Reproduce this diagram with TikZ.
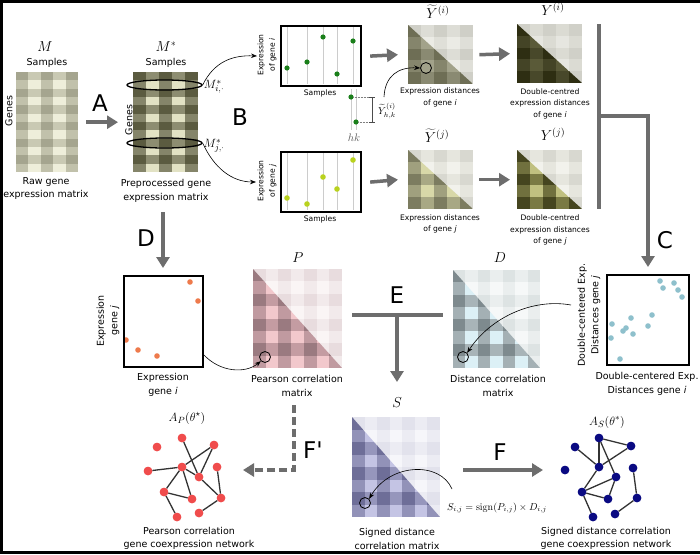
\documentclass[tikz,border=0pt]{standalone}
\usepackage[no-math]{fontspec}
\setmainfont{DejaVu Sans}
\newfontfamily\plainsans{DejaVu Sans}
\usetikzlibrary{arrows.meta,shapes.geometric}
\definecolor{arrgray}{HTML}{6D6D6D}
\definecolor{dotgreen}{HTML}{1A7F1A}
\definecolor{dotyel}{HTML}{B9D21E}
\definecolor{dotorange}{HTML}{EE7A4C}
\definecolor{dotblue}{HTML}{8EC0CC}
\definecolor{netred}{HTML}{F04C4C}
\definecolor{netblue}{HTML}{0A0A82}
\definecolor{edgegray}{HTML}{333333}
% raw matrix
\definecolor{Ma0}{HTML}{A5A58F}\definecolor{Ma1}{HTML}{C9C9B3}\definecolor{Ma2}{HTML}{C1C1AB}\definecolor{Ma3}{HTML}{EEEEDA}
% preprocessed
\definecolor{Mb0}{HTML}{5B5B40}\definecolor{Mb1}{HTML}{8D8D71}\definecolor{Mb2}{HTML}{85856A}\definecolor{Mb3}{HTML}{E2E2C4}
% Y tilde i
\definecolor{Ta0}{HTML}{CFCFC7}\definecolor{Ta1}{HTML}{DDDDD6}\definecolor{Ta2}{HTML}{DFDFD8}\definecolor{Ta3}{HTML}{EBEBE5}
\definecolor{Tb0}{HTML}{6E6E55}\definecolor{Tb1}{HTML}{8A8A72}\definecolor{Tb2}{HTML}{85856C}\definecolor{Tb3}{HTML}{A2A28A}
% Y i
\definecolor{Ua0}{HTML}{D0D0C8}\definecolor{Ua1}{HTML}{DBDBD3}\definecolor{Ua2}{HTML}{DBDBD3}\definecolor{Ua3}{HTML}{E6E6E0}
\definecolor{Ub0}{HTML}{2E2E12}\definecolor{Ub1}{HTML}{48482A}\definecolor{Ub2}{HTML}{444426}\definecolor{Ub3}{HTML}{5A5A38}
% Y tilde j / Y j
\definecolor{Va0}{HTML}{D8D8D0}\definecolor{Va1}{HTML}{E6E6DE}\definecolor{Va2}{HTML}{E6E6DE}\definecolor{Va3}{HTML}{F2F2EC}
\definecolor{Vb0}{HTML}{7C7C60}\definecolor{Vb1}{HTML}{A8A884}\definecolor{Vb2}{HTML}{A0A07E}\definecolor{Vb3}{HTML}{D8D8A8}
\definecolor{Wb0}{HTML}{45451F}\definecolor{Wb1}{HTML}{7A7A44}\definecolor{Wb2}{HTML}{70703E}\definecolor{Wb3}{HTML}{C0C080}
% P
\definecolor{Pa0}{HTML}{E8DCDE}\definecolor{Pa1}{HTML}{F2EAEB}\definecolor{Pa2}{HTML}{F2EAEB}\definecolor{Pa3}{HTML}{FAF5F5}
\definecolor{Pb0}{HTML}{9A7A80}\definecolor{Pb1}{HTML}{C49CA2}\definecolor{Pb2}{HTML}{C09AA0}\definecolor{Pb3}{HTML}{F2C8CC}
% D
\definecolor{Da0}{HTML}{DDE3E3}\definecolor{Da1}{HTML}{EAEEEE}\definecolor{Da2}{HTML}{EAEEEE}\definecolor{Da3}{HTML}{F6F8F8}
\definecolor{Db0}{HTML}{7E8A8E}\definecolor{Db1}{HTML}{A8B4B8}\definecolor{Db2}{HTML}{A4B0B4}\definecolor{Db3}{HTML}{DCF0F6}
% S
\definecolor{Sa0}{HTML}{E2E2EC}\definecolor{Sa1}{HTML}{ECECF3}\definecolor{Sa2}{HTML}{ECECF3}\definecolor{Sa3}{HTML}{F6F6FA}
\definecolor{Sb0}{HTML}{6E6E98}\definecolor{Sb1}{HTML}{9696BC}\definecolor{Sb2}{HTML}{9292B8}\definecolor{Sb3}{HTML}{C4C4E4}

\newcommand{\plaidcells}[7]{%
  \pgfmathsetmacro\pmCW{#3}\pgfmathsetmacro\pmCH{#4}%
  \foreach \cc in {0,...,#5}{\foreach \rr in {0,...,#6}{%
    \pgfmathtruncatemacro\kk{mod(\cc,2)+2*mod(\rr,2)}%
    \fill[fill=#7\kk] ({#1+\cc*\pmCW},{#2+\rr*\pmCH}) rectangle ({#1+(\cc+1)*\pmCW+0.4},{#2+(\rr+1)*\pmCH+0.4});
  }}}
\newcommand{\fullmat}[7]{%
  \begin{scope}
  \clip (#1,#2) rectangle ++(#3,#4);
  \pgfmathtruncatemacro\pmLC{#5-1}\pgfmathtruncatemacro\pmLR{#6-1}%
  \plaidcells{#1}{#2}{#3/#5}{#4/#6}{\pmLC}{\pmLR}{#7}
  \end{scope}}
\newcommand{\trimat}[8]{%
  \begin{scope}
  \clip (#1,#2) rectangle ++(#3,#4);
  \pgfmathtruncatemacro\pmLC{#5-1}\pgfmathtruncatemacro\pmLR{#6-1}%
  \plaidcells{#1}{#2}{#3/#5}{#4/#6}{\pmLC}{\pmLR}{#7}
  \clip (#1,#2) -- (#1,{#2+#4}) -- ({#1+#3},{#2+#4}) -- cycle;
  \plaidcells{#1}{#2}{#3/#5}{#4/#6}{\pmLC}{\pmLR}{#8}
  \end{scope}}

\begin{document}
\begin{tikzpicture}[x=1pt,y=-1pt,
  lbl/.style={font=\fontsize{9.5}{13.5}\selectfont, align=center, inner sep=0pt},
  sml/.style={font=\fontsize{7.6}{11.5}\selectfont, align=center, inner sep=0pt},
  big/.style={font=\fontsize{23}{23}\selectfont, inner sep=0pt},
  mth/.style={font=\fontsize{14}{14}\selectfont, inner sep=0pt},
  garrow/.style={draw=arrgray, line width=3.5pt, -{Triangle[length=11pt,width=13pt]}},
  gline/.style={draw=arrgray, line width=3.5pt},
  tarrow/.style={draw=black, line width=0.6pt, -{Stealth[length=6pt,width=4.5pt]}},
  sbox/.style={draw=black, line width=2.2pt, inner sep=0pt, anchor=north west},
  area/.style={inner sep=0pt, anchor=north west},
  vgrid/.style={draw=gray!40, line width=0.6pt},
  rnode/.style={circle, fill=netred, inner sep=0pt, minimum size=8.5pt},
  bnode/.style={circle, fill=netblue, inner sep=0pt, minimum size=8.5pt},
  nedge/.style={draw=edgegray, line width=1.3pt},
  ring/.style={circle, draw=black, line width=0.8pt, inner sep=0pt, minimum size=11pt},
  oval/.style={ellipse, draw=black, line width=1.3pt, inner sep=0pt, minimum width=75pt, minimum height=10pt},
]
\useasboundingbox (0,0) rectangle (700,554);
\fill[white] (0,0) rectangle (700,554);

% ---------- matrices ----------
\fullmat{16}{72}{62}{100}{5}{12}{Ma}
\fullmat{133}{72}{65}{100}{5}{12}{Mb}
\trimat{408}{25}{65}{59}{5}{5}{Ta}{Tb}
\trimat{517}{24}{65}{59}{5}{5}{Ua}{Ub}
\trimat{408}{150}{65}{59}{5}{5}{Va}{Vb}
\trimat{517}{150}{65}{59}{5}{5}{Va}{Wb}
\trimat{253}{269}{89}{99}{7}{8}{Pa}{Pb}
\trimat{453}{270}{87}{98}{7}{8}{Da}{Db}
\trimat{352}{417}{88}{100}{7}{8}{Sa}{Sb}

\node[area, minimum width=62pt, minimum height=100pt] (M) at (16,72) {};
\node[area, minimum width=65pt, minimum height=100pt] (Ms) at (133,72) {};
\node[area, minimum width=65pt, minimum height=59pt] (Yti) at (408,25) {};
\node[area, minimum width=65pt, minimum height=59pt] (Yi) at (517,24) {};
\node[area, minimum width=65pt, minimum height=59pt] (Ytj) at (408,150) {};
\node[area, minimum width=65pt, minimum height=59pt] (Yj) at (517,150) {};
\node[area, minimum width=89pt, minimum height=99pt] (Pm) at (253,269) {};
\node[area, minimum width=87pt, minimum height=98pt] (Dm) at (453,270) {};
\node[area, minimum width=88pt, minimum height=100pt] (Sm) at (352,417) {};

% ---------- M and M* ----------
\node[mth] (Mlab) at (45,47) {$M$};
\node[lbl] (Msam) at (47,63) {Samples};
\node[lbl, rotate=90] (Mgen) at (9,111) {Genes};
\node[lbl] (Mcap) at (46,188.5) {Raw gene\\expression matrix};

\node[mth] (Mslab) at (166,47) {$M^{*}$};
\node[lbl] (Mssam) at (166,63) {Samples};
\node[lbl, rotate=90] (Msgen) at (129,120) {Genes};
\node[lbl] (Mscap) at (166,191) {Preprocessed gene\\expression matrix};
\node[oval] (ei) at (164.5,85) {};
\node[oval] (ej) at (164.5,143) {};
\node[font=\fontsize{13}{13}\selectfont, inner sep=0pt] (Mi) at (214,87) {$M^{*}_{i,\cdot}$};
\node[font=\fontsize{13}{13}\selectfont, inner sep=0pt] (Mj) at (214,146) {$M^{*}_{j,\cdot}$};

\draw[garrow] ([xshift=8pt]M.east) -- ([xshift=-15pt]Ms.west);
\node[big] (lA) at (100,103) {A};
\node[big] (lB) at (240,117) {B};

% ---------- scatter i ----------
\foreach \xx in {287,307,323,337,353} \draw[vgrid] (\xx,26) -- (\xx,84);
\foreach \xx/\yy in {287/68,307/62,323/37,337/74,353/41} \fill[dotgreen] (\xx,\yy) circle (2.6pt);
\node[sbox, minimum width=80pt, minimum height=60pt] (sci) at (280,25) {};
\node[sml, rotate=90] (sciy) at (267,55) {Expression\\of gene \textit{i}};
\node[sml] (scix) at (320,93) {Samples};
\coordinate (tipi) at (257,56);
\draw[tarrow] (ei.east) .. controls (214,62) and (232,55) .. (tipi);

% inset
\draw[vgrid] (351,89) -- (351,130);
\draw[vgrid] (356,89) -- (356,130);
\fill[dotgreen] (351,97) circle (2.6pt);
\fill[dotgreen] (356,122) circle (2.6pt);
\draw[densely dotted, gray, line width=0.5pt] (353,97) -- (372,97);
\draw[densely dotted, gray, line width=0.5pt] (358,122) -- (372,122);
\draw[gray!60!black, line width=0.8pt] (372,97) -- (372,122) (369,97) -- (375,97) (369,122) -- (375,122);
\node[font=\fontsize{10}{10}\selectfont, inner sep=0pt] (ylab) at (387,111) {$\widetilde{Y}^{(i)}_{h,k}$};
\node[font=\fontsize{11}{11}\selectfont, inner sep=0pt, text=gray!70!black] (hk) at (354,138) {$hk$};
\node[ring] (ci) at (426,68) {};
\coordinate (ystart) at (384,97);
\draw[tarrow] (ystart) .. controls (385,76) and (398,67) .. (ci.west);

% Y tilde i and Y i
\node[mth] (Ytil) at (438,12) {$\widetilde{Y}^{(i)}$};
\node[sml] (Ytic) at (440,97.5) {Expression distances\\of gene \textit{i}};
\node[mth] (Yil) at (553,9) {$Y^{(i)}$};
\node[sml] (Yic) at (550,103.5) {Double-centred\\expression distances\\of gene \textit{i}};
\draw[garrow] ([xshift=8pt]sci.east) -- ([xshift=-10pt]Yti.west);
\draw[garrow] ([xshift=6pt]Yti.east) -- ([xshift=-7pt]Yi.west);

% ---------- scatter j ----------
\foreach \xx in {287,307,323,337,353} \draw[vgrid] (\xx,152) -- (\xx,210);
\foreach \xx/\yy in {287/198,307/204,323/177,337/189,353/160} \fill[dotyel] (\xx,\yy) circle (2.8pt);
\node[sbox, minimum width=80pt, minimum height=60pt] (scj) at (280,151) {};
\node[sml, rotate=90] (scjy) at (267,181) {Expression\\of gene \textit{j}};
\node[sml] (scjx) at (320,219) {Samples};
\coordinate (tipj) at (256,182);
\draw[tarrow] (ej.east) .. controls (214,168) and (232,182) .. (tipj);

\node[mth] (Ytjl) at (437,136) {$\widetilde{Y}^{(j)}$};
\node[sml] (Ytjc) at (440,224) {Expression distances\\of gene \textit{j}};
\node[mth] (Yjl) at (553,134) {$Y^{(j)}$};
\node[sml] (Yjc) at (550,230) {Double-centred\\expression distances\\of gene \textit{j}};
\draw[garrow] ([xshift=8pt]scj.east) -- ([xshift=-10pt]Ytj.west);
\draw[garrow] ([xshift=6pt]Ytj.east) -- ([xshift=-7pt]Yj.west);

% ---------- bracket and C ----------
\coordinate (bt) at (599,24);
\coordinate (bb) at (599,209);
\coordinate (bm) at (599,116);
\coordinate (bc) at (648,116);
\coordinate (btip) at (648,267);
\draw[gline] (bt) -- (bb);
\draw[garrow] (bm) -- (bc) -- (btip);
\node[big] (lC) at (665,240) {C};

\foreach \xx/\yy in {660/281,663/288,674/283,678/290,682/297,652/315,631/318,626/328,623/331,633/334,612/324,611/338,648/326,620/359}
  \fill[dotblue] (\xx,\yy) circle (2.8pt);
\node[sbox, minimum width=82pt, minimum height=90pt] (scc) at (606,274) {};
\node[lbl, rotate=90] (sccy) at (589,315) {Double-centered Exp.\\Distances gene \textit{j}};
\node[lbl] (sccx) at (647,384) {Double-centered Exp.\\Distances gene \textit{i}};

% ---------- D: orange scatter ----------
\draw[garrow] (163,212) -- (163,268);
\node[big] (lD) at (146,238) {D};
\foreach \xx/\yy in {190/282,198/301,126/340,138/350,157/356} \fill[dotorange] (\xx,\yy) circle (2.8pt);
\node[sbox, minimum width=79pt, minimum height=91pt] (sco) at (123,275) {};
\node[lbl, rotate=90] (scoy) at (108,321) {Expression\\gene \textit{j}};
\node[lbl] (scox) at (163,385) {Expression\\gene \textit{i}};

% ---------- P, D ----------
\node[mth] (Pl) at (298,258) {$P$};
\node[lbl] (Pc) at (297,386) {Pearson correlation\\matrix};
\node[ring] (pc) at (265,357) {};
\coordinate (pstart) at (204,355);
\draw[tarrow] (pstart) .. controls (220,372) and (245,374) .. (pc.south west);

\node[mth] (Dl) at (500,258) {$D$};
\node[lbl] (Dc) at (498,386) {Distance correlation\\matrix};
\node[ring] (dc) at (463,357) {};
\coordinate (dstart) at (571,305);
\draw[tarrow] (dstart) .. controls (532,298) and (490,318) .. (dc.north east);

% ---------- E ----------
\node[big] (lE) at (397,295) {E};
\coordinate (el) at (352,315);
\coordinate (er) at (443,315);
\coordinate (em) at (397,315);
\coordinate (etip) at (397,382);
\draw[gline] (el) -- (er);
\draw[garrow] (em) -- (etip);

% ---------- S ----------
\node[mth] (Sl) at (397,403) {$S$};
\node[lbl] (Sc) at (397,539) {Signed distance\\correlation matrix};
\node[ring] (sc) at (365,503) {};
\node[font=\fontsize{10}{10}\selectfont, inner sep=0pt] (form) at (497,508) {$S_{i,j} = \mathrm{sign}(P_{i,j}) \times D_{i,j}$};
\coordinate (sstart) at (452,489);
\draw[tarrow] (sstart) .. controls (440,461) and (390,463) .. (sc.north east);

% ---------- F and F' ----------
\coordinate (fs) at (463,470);
\coordinate (fe) at (543,470);
\draw[garrow] (fs) -- (fe);
\node[big] (lF) at (500,452) {F};
\coordinate (fps) at (294,405);
\coordinate (fpc) at (294,470);
\coordinate (fpe) at (243,470);
\draw[garrow, dash pattern=on 8pt off 4pt] (fps) -- (fpc) -- (fpe);
\node[big] (lFp) at (313,450) {\plainsans F'};

% ---------- Pearson network ----------
\node[font=\fontsize{13}{13}\selectfont, inner sep=0pt] (APl) at (187,418) {$A_P(\theta^{\star})$};
\foreach \n/\xx/\yy in {r1/157/447, r2/182/438, r3/214/445, r4/148/471, r5/182/467, r6/217/467, r7/199/477, r8/164/492, r9/192/499, r10/221/498, r11/177/517, r12/199/513}
  \node[rnode] (\n) at (\xx,\yy) {};
\foreach \a/\b in {r4/r5, r5/r3, r5/r7, r5/r8, r5/r9, r3/r7, r2/r7, r8/r9, r8/r11, r6/r10, r7/r10, r12/r10}
  \draw[nedge] (\a) -- (\b);
\foreach \n/\xx/\yy in {r1/157/447, r2/182/438, r3/214/445, r4/148/471, r5/182/467, r6/217/467, r7/199/477, r8/164/492, r9/192/499, r10/221/498, r11/177/517, r12/199/513}
  \fill[netred] (\xx,\yy) circle (4.25pt);
\node[lbl] (APc) at (189,538.5) {Pearson correlation\\gene coexpression network};

% ---------- Signed network ----------
\node[font=\fontsize{13}{13}\selectfont, inner sep=0pt] (ASl) at (607,422) {$A_S(\theta^{*})$};
\foreach \n/\xx/\yy in {b1/599/438, b2/575/447, b3/631/446, b4/565/470, b5/599/467, b6/633/468, b7/616/477, b8/582/492, b9/608/499, b10/637/498, b11/593/517, b12/615/514}
  \node[bnode] (\n) at (\xx,\yy) {};
\foreach \a/\b in {b1/b3, b1/b5, b1/b7, b3/b5, b2/b5, b5/b8, b8/b7, b8/b9, b7/b9, b8/b11, b6/b10, b10/b12}
  \draw[nedge] (\a) -- (\b);
\foreach \n/\xx/\yy in {b1/599/438, b2/575/447, b3/631/446, b4/565/470, b5/599/467, b6/633/468, b7/616/477, b8/582/492, b9/608/499, b10/637/498, b11/593/517, b12/615/514}
  \fill[netblue] (\xx,\yy) circle (4.25pt);
\node[lbl] (ASc) at (606,538.5) {Signed distance correlation\\gene coexpression network};

% ---------- frame ----------
\draw[black, line width=3pt] (700,1) -- (1.5,1) -- (1.5,552.5) -- (700,552.5);
\end{tikzpicture}
\end{document}
